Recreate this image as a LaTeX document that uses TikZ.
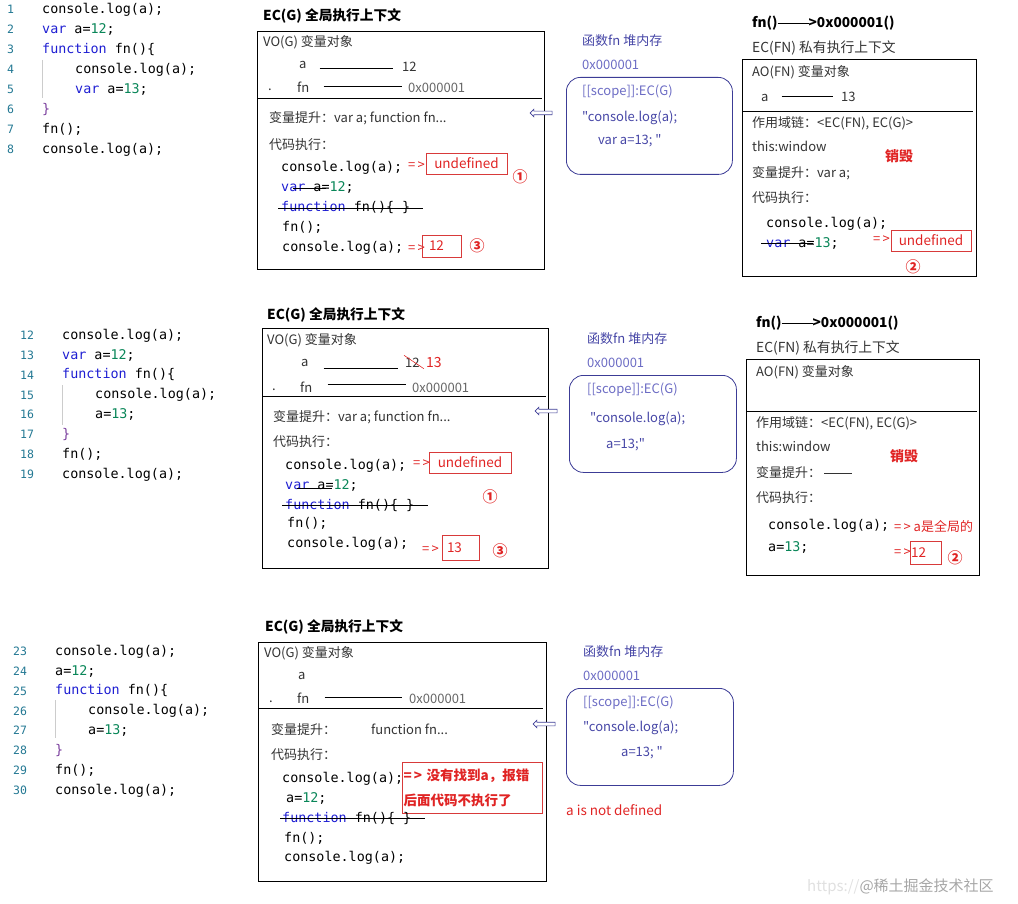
\documentclass[tikz,border=0pt]{standalone}
\usepackage{fontspec}
\setmainfont{Noto Sans CJK SC}[Ligatures=TeXOff]
\setmonofont{DejaVu Sans Mono}
\usetikzlibrary{positioning, calc, shapes.arrows}

\definecolor{kwblue}{HTML}{1E1ED2}
\definecolor{numgreen}{HTML}{098658}
\definecolor{lnteal}{HTML}{237893}
\definecolor{bracepurple}{HTML}{7A3E9D}
\definecolor{heapblue}{HTML}{4646A6}
\definecolor{heaplight}{HTML}{6C6CC4}
\definecolor{heapline}{HTML}{3C3C96}
\definecolor{alertred}{HTML}{E02424}
\definecolor{boxred}{HTML}{D83A3A}

\newcommand{\codekw}[1]{\textcolor{kwblue}{#1}}
\newcommand{\codenum}[1]{\textcolor{numgreen}{#1}}

\begin{document}
\begin{tikzpicture}[
  x=1pt, y=1pt,
  txt/.style={anchor=west, inner sep=0pt, text height=9pt, text depth=0pt, font=\fontsize{13}{15}\selectfont, text=black!80},
  hexv/.style={txt, text=black!60},
  code/.style={txt, font=\ttfamily\fontsize{13.4}{16}\selectfont, text=black},
  lnum/.style={txt, font=\ttfamily\fontsize{11.5}{14}\selectfont, text=lnteal},
  title/.style={txt, font=\bfseries\fontsize{13.7}{16}\selectfont, text=black},
  ecbox/.style={draw, line width=0.8pt, anchor=north west, inner sep=0pt},
  heapbox/.style={draw=heapline, rounded corners=14pt, line width=0.8pt, anchor=north west, inner sep=0pt},
  heaptxt/.style={txt, text=heapblue},
  heapaddr/.style={txt, text=heaplight},
  alert/.style={txt, text=alertred},
  alertbox/.style={draw=boxred, line width=0.7pt, text=alertred, inner sep=0pt, font=\fontsize{13.5}{15}\selectfont, minimum height=21pt},
  circ/.style={text=alertred, inner sep=0pt, font=\bfseries\fontsize{15}{17}\selectfont},
  divider/.style={line width=0.8pt},
  link/.style={line width=0.9pt},
  strike/.style={line width=0.9pt},
  guide/.style={draw=black!20, line width=0.6pt},
  blockarr/.style={single arrow, draw=heapline, fill=white, shape border rotate=180, minimum height=22pt, single arrow head extend=2pt, inner sep=1.5pt, line width=0.6pt}
  ]
  \useasboundingbox (0,0) rectangle (1018,-904);

  % ========== 第一组: var a=12; var a=13 ==========
  \foreach \n [count=\i from 0] in {1,...,8}
    \node[lnum] (ln\n) at (7,{-9-20*\i}) {\n};
  \node[code] (c1a) at (42,-9) {console.log(a);};
  \node[code] (c1b) at (42,-29) {\codekw{var} a=\codenum{12};};
  \node[code] (c1c) at (42,-49) {\codekw{function} fn()\{};
  \node[code] (c1d) at (75,-69) {console.log(a);};
  \node[code] (c1e) at (75,-89) {\codekw{var} a=\codenum{13};};
  \node[code] (c1f) at (42,-109) {\textcolor{bracepurple}{\}}};
  \node[code] (c1g) at (42,-129) {fn();};
  \node[code] (c1h) at (42,-149) {console.log(a);};
  \draw[guide] (42,-60) -- (42,-98);

  % EC(G)
  \node[title] (t1) at (263,-16) {EC(G) 全局执行上下文};
  \node[ecbox, minimum width=287pt, minimum height=238pt] (ecg1) at (257,-31) {};
  \draw[divider] ($(ecg1.north west)+(0,-67)$) -- ($(ecg1.north east)+(-3,-67)$);
  \node[txt] (vo1) at (263,-42) {VO(G) 变量对象};
  \node[txt] (va1) at (299,-64) {a};
  \node[txt] (vv1) at (402,-67) {12};
  \draw[link] ($(va1.east)+(13,-4)$) -- ($(vv1.west)+(-9,-1)$);
  \node[txt] (dot1) at (268,-86) {.};
  \node[txt] (vf1) at (297,-88) {fn};
  \node[hexv] (vx1) at (408,-88) {0x000001};
  \draw[link] ($(vf1.east)+(14,2)$) -- ($(vx1.west)+(-6,2)$);
  \node[txt] (hs1) at (269,-118) {变量提升：var a; function fn...};
  \node[txt] (ex1) at (269,-145) {代码执行：};
  \node[code] (e1a) at (281,-167) {console.log(a);};
  \node[alert] (ar1a) at (408,-165) {=\,>};
  \node[alertbox, minimum width=81pt] (r1a) at (466.5,-163.5) {undefined};
  \node[circ] (n1a) at (520,-177) {①};
  \node[code] (e1b) at (281,-187) {\codekw{var} a=\codenum{12};};
  \draw[strike] ($(e1b.west)+(12,-1)$) -- ($(e1b.west)+(45,-1)$);
  \node[code] (e1c) at (281,-207) {\codekw{function} fn()\{ \}};
  \draw[strike] ($(e1c.west)+(-3,-1)$) -- ($(e1c.east)+(13,-1)$);
  \node[code] (e1d) at (282,-227) {fn();};
  \node[code] (e1e) at (282,-247) {console.log(a);};
  \node[alert] (ar1b) at (408,-248) {=\,>};
  \node[alertbox, minimum width=39pt, minimum height=22pt, text width=25pt, inner xsep=7pt, align=left] (r1b) at (441.5,-246) {12};
  \node[circ] (n1b) at (477,-246) {③};
  \node[blockarr] (ha1) at (542,-113) {};

  % 函数堆内存
  \node[heaptxt] (hp1) at (582,-41) {函数fn 堆内存};
  \node[heapaddr] (hx1) at (582,-65) {0x000001};
  \node[heapbox, minimum width=166pt, minimum height=97pt] (hb1) at (566,-77) {};
  \node[heapaddr] (hsc1) at (582,-91) {[[scope]]:EC(G)};
  \node[heaptxt] (hc1) at (582,-117) {"console.log(a);};
  \node[heaptxt] (hd1) at (598,-140) {var a=13; "};

  % EC(FN)
  \node[title] (fc1) at (752,-23) {fn()\rule[3.5pt]{31pt}{0.9pt}>0x000001()};
  \node[txt, font=\fontsize{13.8}{15}\selectfont] (fe1) at (752,-48) {EC(FN) 私有执行上下文};
  \node[ecbox, minimum width=234pt, minimum height=217pt] (ecf1) at (742,-59) {};
  \draw[divider] ($(ecf1.north west)+(0,-52)$) -- ($(ecf1.north east)+(-4,-52)$);
  \node[txt] (ao1) at (752,-72) {AO(FN) 变量对象};
  \node[txt] (aa1) at (761,-97) {a};
  \node[txt] (av1) at (841,-97) {13};
  \draw[link] ($(aa1.east)+(13,1)$) -- ($(av1.west)+(-8,1)$);
  \node[txt] (sc1) at (752,-123) {作用域链：<EC(FN), EC(G)>};
  \node[txt] (th1) at (752,-147) {this:window};
  \node[alert, font=\bfseries\fontsize{14}{16}\selectfont] (de1) at (885,-157) {销毁};
  \node[txt] (fh1) at (752,-173) {变量提升：var a;};
  \node[txt] (fx1) at (752,-198) {代码执行：};
  \node[code] (f1a) at (766,-223) {console.log(a);};
  \node[code] (f1b) at (766,-243) {\codekw{var} a=\codenum{13};};
  \draw[strike] ($(f1b.west)+(-5,0)$) -- ($(f1b.west)+(47,0)$);
  \node[alert] (ar1c) at (873,-239) {=\,>};
  \node[alertbox, minimum width=80pt] (r1c) at (931,-240.5) {undefined};
  \node[circ] (n1c) at (913,-267) {②};

  % ========== 第二组: a=13 ==========
  \foreach \n [count=\i from 0] in {12,...,19}
    \node[lnum] (ln\n) at (20,{-335-19.86*\i}) {\n};
  \node[code] (c2a) at (62,-335) {console.log(a);};
  \node[code] (c2b) at (62,-355) {\codekw{var} a=\codenum{12};};
  \node[code] (c2c) at (62,-374) {\codekw{function} fn()\{};
  \node[code] (c2d) at (95,-394) {console.log(a);};
  \node[code] (c2e) at (95,-414) {a=\codenum{13};};
  \node[code] (c2f) at (62,-434) {\textcolor{bracepurple}{\}}};
  \node[code] (c2g) at (62,-454) {fn();};
  \node[code] (c2h) at (62,-474) {console.log(a);};
  \draw[guide] (62,-385) -- (62,-425);

  % EC(G)
  \node[title] (t2) at (267,-315) {EC(G) 全局执行上下文};
  \node[ecbox, minimum width=286pt, minimum height=240pt] (ecg2) at (262,-328) {};
  \draw[divider] ($(ecg2.north west)+(0,-68)$) -- ($(ecg2.north east)+(-3,-68)$);
  \node[txt] (vo2) at (267,-340) {VO(G) 变量对象};
  \node[txt] (va2) at (301,-362) {a};
  \node[txt] (vv2) at (405,-363) {12};
  \draw[alertred, line width=0.6pt] ($(vv2.north west)+(-1,3)$) -- ($(vv2.south east)+(4,-1)$);
  \node[alert, font=\fontsize{14}{16}\selectfont] (vn2) at (426,-363) {13};
  \draw[link] ($(va2.east)+(15,-6)$) -- ($(vv2.west)+(-7,-5)$);
  \node[txt] (dot2) at (272,-386) {.};
  \node[txt] (vf2) at (300,-388) {fn};
  \node[hexv] (vx2) at (412,-388) {0x000001};
  \draw[link] ($(vf2.east)+(15,4)$) -- ($(vx2.west)+(-6,4)$);
  \node[txt] (hs2) at (273,-417) {变量提升：var a; function fn...};
  \node[txt] (ex2) at (273,-442) {代码执行：};
  \node[code] (e2a) at (285,-465) {console.log(a);};
  \node[alert] (ar2a) at (413,-463) {=\,>};
  \node[alertbox, minimum width=82pt] (r2a) at (470,-462.5) {undefined};
  \node[code] (e2b) at (285,-485) {\codekw{var} a=\codenum{12};};
  \draw[strike] ($(e2b.west)+(12,-3)$) -- ($(e2b.west)+(47,-3)$);
  \node[circ] (n2a) at (490,-497) {①};
  \node[code] (e2c) at (285,-505) {\codekw{function} fn()\{ \}};
  \draw[strike] ($(e2c.west)+(-3,0)$) -- ($(e2c.east)+(14,0)$);
  \node[code] (e2d) at (287,-523) {fn();};
  \node[code] (e2e) at (287,-543) {console.log(a);};
  \node[alert] (ar2b) at (422,-549) {=\,>};
  \node[alertbox, minimum width=37pt, minimum height=25pt, text width=27pt, inner xsep=5pt, align=left] (r2b) at (460.5,-547.5) {13};
  \node[circ] (n2b) at (500,-551) {③};
  \node[blockarr] (ha2) at (547,-411) {};

  % 函数堆内存
  \node[heaptxt] (hp2) at (587,-339) {函数fn 堆内存};
  \node[heapaddr] (hx2) at (587,-363) {0x000001};
  \node[heapbox, minimum width=167pt, minimum height=97pt] (hb2) at (569,-375) {};
  \node[heapaddr] (hsc2) at (587,-389) {[[scope]]:EC(G)};
  \node[heaptxt] (hc2) at (590,-418) {"console.log(a);};
  \node[heaptxt] (hd2) at (606,-444) {a=13;"};

  % EC(FN)
  \node[title] (fc2) at (756,-323) {fn()\rule[3.5pt]{31pt}{0.9pt}>0x000001()};
  \node[txt, font=\fontsize{13.8}{15}\selectfont] (fe2) at (756,-348) {EC(FN) 私有执行上下文};
  \node[ecbox, minimum width=233pt, minimum height=216pt] (ecf2) at (746,-359) {};
  \draw[divider] ($(ecf2.north west)+(0,-52)$) -- ($(ecf2.north east)+(-3,-52)$);
  \node[txt] (ao2) at (756,-372) {AO(FN) 变量对象};
  \node[txt] (sc2) at (756,-423) {作用域链：<EC(FN), EC(G)>};
  \node[txt] (th2) at (756,-447) {this:window};
  \node[alert, font=\bfseries\fontsize{14}{16}\selectfont] (de2) at (890,-457) {销毁};
  \node[txt] (fh2) at (756,-473) {变量提升：\hspace{3pt}\rule[3.5pt]{28pt}{0.9pt}};
  \node[txt] (fx2) at (756,-498) {代码执行：};
  \node[code] (f2a) at (768,-525) {console.log(a);};
  \node[alert] (ar2c) at (894,-527) {=\,> a是全局的};
  \node[code] (f2b) at (768,-547) {a=\codenum{13};};
  \node[alert] (ar2d) at (894,-552) {=\,>};
  \node[alertbox, minimum width=31pt, minimum height=23pt, text width=29pt, inner xsep=1pt, align=left] (r2c) at (925.5,-552.5) {12};
  \node[circ] (n2c) at (955,-558) {②};

  % ========== 第三组: a=12 没有 var ==========
  \foreach \n [count=\i from 0] in {23,...,30}
    \node[lnum] (ln\n) at (13,{-651-19.86*\i}) {\n};
  \node[code] (c3a) at (55,-651) {console.log(a);};
  \node[code] (c3b) at (55,-671) {a=\codenum{12};};
  \node[code] (c3c) at (55,-690) {\codekw{function} fn()\{};
  \node[code] (c3d) at (88,-710) {console.log(a);};
  \node[code] (c3e) at (88,-730) {a=\codenum{13};};
  \node[code] (c3f) at (55,-750) {\textcolor{bracepurple}{\}}};
  \node[code] (c3g) at (55,-770) {fn();};
  \node[code] (c3h) at (55,-790) {console.log(a);};
  \draw[guide] (55,-700) -- (55,-738);

  % EC(G)
  \node[title] (t3) at (265,-627) {EC(G) 全局执行上下文};
  \node[ecbox, minimum width=288pt, minimum height=239pt] (ecg3) at (258,-642) {};
  \draw[divider] ($(ecg3.north west)+(0,-66)$) -- ($(ecg3.north east)+(-4,-66)$);
  \node[txt] (vo3) at (264,-653) {VO(G) 变量对象};
  \node[txt] (va3) at (298,-675) {a};
  \node[txt] (dot3) at (269,-698) {.};
  \node[txt] (vf3) at (297,-699) {fn};
  \node[hexv] (vx3) at (409,-699) {0x000001};
  \draw[link] ($(vf3.east)+(15,2)$) -- ($(vx3.west)+(-7,2)$);
  \node[txt] (hs3a) at (271,-730) {变量提升：};
  \node[txt] (hs3b) at (371,-730) {function fn...};
  \node[txt] (ex3) at (271,-755) {代码执行：};
  \node[code] (e3a) at (282,-778) {console.log(a);};
  \node[alertbox, minimum width=140pt, minimum height=51pt, text width=137pt, inner xsep=1.5pt, align=left, font=\bfseries\fontsize{13.5}{25}\selectfont] (r3) at (472,-787.5) {=\,> 没有找到a，报错\\后面代码不执行了};
  \node[code] (e3b) at (286,-798) {a=\codenum{12};};
  \node[code] (e3c) at (282,-818) {\codekw{function} fn()\{ \}};
  \draw[strike] ($(e3c.west)+(-2,0)$) -- ($(e3c.east)+(14,0)$);
  \node[code] (e3d) at (284,-838) {fn();};
  \node[code] (e3e) at (284,-857) {console.log(a);};
  \node[blockarr] (ha3) at (545,-724) {};

  % 函数堆内存
  \node[heaptxt] (hp3) at (583,-652) {函数fn 堆内存};
  \node[heapaddr] (hx3) at (583,-676) {0x000001};
  \node[heapbox, minimum width=167pt, minimum height=97pt] (hb3) at (566,-688) {};
  \node[heapaddr] (hsc3) at (583,-702) {[[scope]]:EC(G)};
  \node[heaptxt] (hc3) at (583,-727) {"console.log(a);};
  \node[heaptxt] (hd3) at (621,-752) {a=13; "};
  \node[alert, font=\fontsize{13.5}{15}\selectfont] (na3) at (566,-811) {a is not defined};

  \node[txt, font=\fontsize{15}{17}\selectfont, text=black!35] (wm) at (807,-887) {\textcolor{black!12}{https://}@稀土掘金技术社区};
\end{tikzpicture}
\end{document}
